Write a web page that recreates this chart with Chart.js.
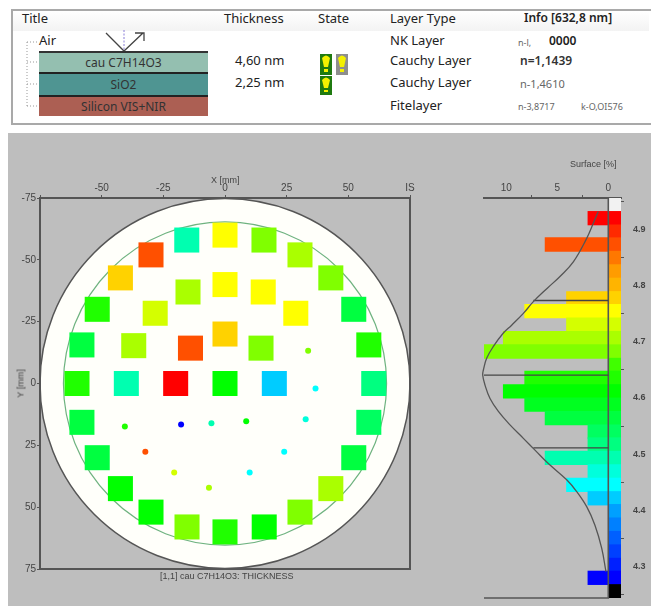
<!DOCTYPE html>
<html>
<head>
<meta charset="utf-8">
<script src="https://cdn.jsdelivr.net/npm/chart.js@4"></script>
<style>
  html, body { margin: 0; padding: 0; background: #fff; }
  body { position: relative; width: 651px; height: 606px; overflow: hidden; font-family: "Noto Sans", sans-serif; color: #222; }
  .abs { position: absolute; white-space: nowrap; line-height: 1; }
  #frame { position: absolute; left: 11px; top: 9px; width: 638px; height: 112px; border: 2px solid #a9a9a9; border-right: 0; }
  #headbar { position: absolute; left: 13px; top: 11px; width: 636px; height: 20px; background: linear-gradient(#fff, #f3f3f3); }
  #panel { position: absolute; left: 8px; top: 133px; width: 643px; height: 473px; background: #bebebe; }
  #waferBox { position: absolute; left: 0; top: 133px; width: 430px; height: 473px; filter: blur(0.4px); }
  #histBox { position: absolute; left: 430px; top: 133px; width: 221px; height: 473px; filter: blur(0.4px); }
  .lbl { font-family: "Liberation Sans", Arial, sans-serif; font-size: 9px; color: #444; }
  .layer { position: absolute; left: 39px; width: 169px; height: 21px; line-height: 21px; text-align: center; font-size: 12px; color: #333; box-sizing: border-box; }
</style>
</head>
<body>
<div id="frame"></div>
<div id="headbar"></div>

<div class="abs" style="left:22px;top:12px;font-size:13px">Title</div>
<div class="abs" style="left:224px;top:12px;font-size:13px">Thickness</div>
<div class="abs" style="left:318px;top:12px;font-size:13px">State</div>
<div class="abs" style="left:390px;top:12px;font-size:13px">Layer Type</div>
<div class="abs" style="left:524px;top:12px;font-size:12px;font-weight:600">Info [632,8 nm]</div>

<svg class="abs" style="left:0;top:0" width="651" height="125">
  <path d="M27 42V106M27 42H38M27 62H39M27 84H39M27 106H39" stroke="#999" stroke-dasharray="1 2" fill="none"/>
  <path d="M106 33L124 51L143 33M135 33H144V41" stroke="#444" stroke-width="1.3" fill="none"/>
  <path d="M124 30V51" stroke="#8a7fd8" stroke-dasharray="2 1.5" fill="none"/>
  <rect x="39" y="51" width="169" height="2" fill="#333"/>
  <rect x="39" y="53" width="169" height="19" fill="#94bfb0"/>
  <rect x="39" y="72" width="169" height="2" fill="#222"/>
  <rect x="39" y="74" width="169" height="21" fill="#4f9592"/>
  <rect x="39" y="95" width="169" height="2" fill="#222"/>
  <rect x="39" y="97" width="169" height="19" fill="#ac5f53"/>
  <rect x="320" y="54" width="12" height="21" fill="#1f7a10"/>
  <path d="M322 58Q326 53 330 58L328 67H324Z" fill="#f4f000"/><rect x="324" y="69" width="4" height="3" fill="#f4f000"/>
  <rect x="336" y="54" width="12" height="21" fill="#8e8e8e"/>
  <path d="M338 58Q342 53 346 58L344 67H340Z" fill="#f4f000"/><rect x="340" y="69" width="4" height="3" fill="#f4f000"/>
  <rect x="320" y="76" width="12" height="19" fill="#1f7a10"/>
  <path d="M322 80Q326 75 330 80L328 88H324Z" fill="#f4f000"/><rect x="324" y="90" width="4" height="2" fill="#f4f000"/>
</svg>

<div class="abs" style="left:39px;top:34px;font-size:13px">Air</div>
<div class="layer" style="top:52px">cau C7H14O3</div>
<div class="layer" style="top:74px">SiO2</div>
<div class="layer" style="top:96px">Silicon VIS+NIR</div>
<div class="abs" style="left:235px;top:54px;font-size:13px">4,60 nm</div>
<div class="abs" style="left:235px;top:76px;font-size:13px">2,25 nm</div>
<div class="abs" style="left:390px;top:34px;font-size:13px">NK Layer</div>
<div class="abs" style="left:390px;top:54px;font-size:13px">Cauchy Layer</div>
<div class="abs" style="left:390px;top:76px;font-size:13px">Cauchy Layer</div>
<div class="abs" style="left:390px;top:99px;font-size:13px">Fitelayer</div>
<div class="abs" style="left:518px;top:38px;font-size:9px;color:#666">n-l,</div>
<div class="abs" style="left:549px;top:35px;font-size:12px;font-weight:600">0000</div>
<div class="abs" style="left:520px;top:55px;font-size:12px;font-weight:600;color:#333">n=1,1439</div>
<div class="abs" style="left:520px;top:78px;font-size:11px;color:#666">n-1,4610</div>
<div class="abs" style="left:518px;top:102px;font-size:9px;color:#666">n-3,8717</div>
<div class="abs" style="left:581px;top:102px;font-size:9px;color:#666">k-O,OI576</div>

<div id="panel"></div>
<div id="waferBox"><canvas id="waferChart"></canvas></div>
<div id="histBox"><canvas id="histChart"></canvas></div>

<div class="abs lbl" style="left:211px;top:176px">X [mm]</div>
<div class="abs lbl" style="left:6px;top:379px;transform:rotate(-90deg);width:30px;text-align:center;font-weight:400">Y [mm]</div>
<div class="abs lbl" style="left:160px;top:572px">[1,1] cau C7H14O3: THICKNESS</div>
<div class="abs lbl" style="left:570px;top:160px">Surface [%]</div>

<script>
// wafer measurement sites, mm
const squareX = [-15.5, -30, -42.4, -51.8, -58, -60, -40, -20, 0, 20, 60.3, 0, 0, 0, -15, -28.3, -37, -14, 15.8, 30.4, 42.9, 52.2, 58.3, 15.5, 28.7, 14.6, -58, -51.8, -42.4, -30, -15.4, 0, 15.9, 30.4, 42.9, 52.2, 58.3];
const squareY = [-58, -52, -42.7, -30, -15.6, 0, 0, 0, 0, 0, 0, -60, -40, -20, -37, -28.4, -15.3, -14.3, -58, -52, -42.7, -30, -15.6, -37, -28.4, -14.3, 15.7, 30, 42.5, 52, 58, 60, 58, 52, 42.5, 30, 15.7];
const squareNm = [4.493, 4.874, 4.778, 4.636, 4.564, 4.636, 4.493, 4.921, 4.612, 4.421, 4.517, 4.755, 4.755, 4.778, 4.707, 4.731, 4.707, 4.874, 4.683, 4.707, 4.683, 4.564, 4.636, 4.755, 4.755, 4.683, 4.564, 4.564, 4.612, 4.612, 4.683, 4.636, 4.612, 4.683, 4.707, 4.564, 4.540];
const dotX = [33.7, 36.7, -40.6, -17.8, -5.5, 8.6, 32.7, -32.3, 24, -20.6, 10, -6.5];
const dotY = [-13.2, 2, 17.4, 16.6, 16.1, 15.3, 14.5, 27.6, 27.6, 36, 36, 42.1];
const dotNm = [4.683, 4.445, 4.636, 4.279, 4.493, 4.612, 4.469, 4.874, 4.445, 4.731, 4.445, 4.707];

const waferTicks = [-75, -50, -25, 0, 25, 50, 75];
const waferRadius = 75;
const ringRadius = 65.5;

// histogram: bands run from the top of the colour bar down
const binCenters = [4.945, 4.921, 4.897, 4.874, 4.850, 4.826, 4.802, 4.778, 4.755, 4.731, 4.707, 4.683, 4.659, 4.636, 4.612, 4.588, 4.564, 4.540, 4.517, 4.493, 4.469, 4.445, 4.421, 4.398, 4.374, 4.350, 4.326, 4.302, 4.279, 4.255];
const surfacePct = [0, 2, 0, 6.2, 0, 0, 0, 4.1, 8.2, 4.1, 10.3, 12.3, 0, 8.2, 10.3, 8.2, 6.2, 2, 2, 6.2, 2, 4.1, 2, 0, 0, 0, 0, 0, 2, 0];
const bandColors = ['#f2f2f2', '#ff0000', '#ff2a00', '#ff5000', '#ff7800', '#ff9c00', '#ffb400', '#ffd200', '#ffff00', '#d4ff00', '#aaff00', '#80ff00', '#40ff00', '#20ff00', '#00ff00', '#00ff20', '#00ff40', '#00ff60', '#00ff80', '#00ffb0', '#00ffdc', '#00ffff', '#00ccff', '#00a0ff', '#0080ff', '#0060ff', '#0040ff', '#0020ff', '#0000ff', '#000000'];
const surfaceTicks = [0, 5, 10];
const valueTicks = [4.3, 4.4, 4.5, 4.6, 4.7, 4.8, 4.9];

// fitted curve
const curvePct = [0.98, 1.47, 2.12, 3.43, 4.74, 5.98, 7.35, 8.33, 9.48, 10.29, 11.27, 11.93, 12.25, 12.32, 12.09, 11.6, 10.78, 9.64, 8.33, 7.19, 5.88, 4.08, 3.1, 2.12, 1.31, 0.65, 0.23];
const curveVal = [4.933, 4.912, 4.885, 4.843, 4.817, 4.796, 4.772, 4.751, 4.730, 4.716, 4.692, 4.671, 4.650, 4.641, 4.623, 4.599, 4.576, 4.552, 4.528, 4.507, 4.483, 4.454, 4.433, 4.406, 4.373, 4.332, 4.290];
const markerVal = [4.774, 4.641, 4.511];
const markerPct = [7.35, 12.3, 7.35];

const valMin = 4.243, valMax = 4.957;
const pctMin = -1.245, pctMax = 12.19;

const axisColor = '#555';
const tickFont = { family: '"Liberation Sans", Arial, sans-serif', size: 10 };

function colorFor(nm) {
  let best = 0;
  binCenters.forEach((c, i) => {
    if (Math.abs(c - nm) < Math.abs(binCenters[best] - nm)) best = i;
  });
  return bandColors[best];
}

const waferPlugin = {
  id: 'wafer',
  beforeDatasetsDraw(chart) {
    const { ctx, scales: { x, y } } = chart;
    const cx = x.getPixelForValue(0), cy = y.getPixelForValue(0);
    const pxPerMm = (x.getPixelForValue(75) - cx) / 75;
    ctx.save();
    ctx.beginPath();
    ctx.arc(cx, cy, waferRadius * pxPerMm, 0, Math.PI * 2);
    ctx.fillStyle = '#fffffa';
    ctx.fill();
    ctx.strokeStyle = '#555';
    ctx.lineWidth = 1.5;
    ctx.stroke();
    ctx.beginPath();
    ctx.arc(cx, cy, ringRadius * pxPerMm, 0, Math.PI * 2);
    ctx.strokeStyle = '#6fb380';
    ctx.lineWidth = 1.2;
    ctx.stroke();
    ctx.restore();
  },
  afterDraw(chart) {
    const { ctx, chartArea: a } = chart;
    ctx.save();
    ctx.strokeStyle = axisColor;
    ctx.lineWidth = 2;
    ctx.strokeRect(a.left, a.top, a.right - a.left, a.bottom - a.top);
    ctx.restore();
  }
};

function fixTicks(values) {
  return (scale) => { scale.ticks = values.map((v) => ({ value: v })); };
}

new Chart(document.getElementById('waferChart'), {
  type: 'scatter',
  data: {
    datasets: [{
      data: squareX.map((x, i) => ({ x, y: squareY[i] })),
      pointStyle: 'rect',
      pointRadius: 17.7,
      pointBorderWidth: 0,
      pointBackgroundColor: squareNm.map(colorFor)
    }, {
      data: dotX.map((x, i) => ({ x, y: dotY[i] })),
      pointStyle: 'circle',
      pointRadius: 3,
      pointBorderWidth: 0,
      pointBackgroundColor: dotNm.map(colorFor)
    }]
  },
  options: {
    responsive: true,
    maintainAspectRatio: false,
    animation: false,
    layout: { padding: { left: 20, top: 45, right: 20, bottom: 37 } },
    plugins: { legend: { display: false }, tooltip: { enabled: false } },
    scales: {
      x: {
        type: 'linear',
        position: 'top',
        min: -75,
        max: 75,
        afterFit: (s) => { s.height = 20; },
        afterBuildTicks: fixTicks(waferTicks),
        grid: { drawOnChartArea: false, tickLength: 3, color: axisColor },
        border: { display: false },
        ticks: {
          font: tickFont,
          color: '#444',
          padding: 1,
          maxRotation: 0,
          callback: (v) => (v === -75 ? '' : v === 75 ? 'IS' : v)
        }
      },
      y: {
        type: 'linear',
        reverse: true,
        min: -75,
        max: 75,
        afterFit: (s) => { s.width = 20; },
        afterBuildTicks: fixTicks(waferTicks),
        grid: { drawOnChartArea: false, tickLength: 3, color: axisColor },
        border: { display: false },
        ticks: { font: tickFont, color: '#444', padding: 1 }
      }
    }
  },
  plugins: [waferPlugin]
});

new Chart(document.getElementById('histChart'), {
  type: 'bar',
  data: {
    datasets: [{
      // colour bar
      indexAxis: 'y',
      grouped: false,
      order: 2,
      barThickness: 13.6,
      data: binCenters.map((y) => ({ x: [pctMin, 0], y })),
      backgroundColor: bandColors
    }, {
      indexAxis: 'y',
      grouped: false,
      order: 1,
      barThickness: 13.6,
      data: binCenters.map((y, i) => ({ x: surfacePct[i], y })),
      backgroundColor: bandColors
    }, {
      type: 'scatter',
      showLine: true,
      order: 0,
      clip: false,
      pointRadius: 0,
      borderColor: '#555',
      borderWidth: 1.3,
      tension: 0.4,
      data: curvePct.map((x, i) => ({ x, y: curveVal[i] }))
    }, ...markerVal.map((v, i) => ({
      type: 'scatter',
      showLine: true,
      order: 0,
      pointRadius: 0,
      borderColor: '#444',
      borderWidth: 1.3,
      data: [{ x: markerPct[i], y: v }, { x: 0, y: v }]
    })), {
      // zero line and bottom rule of the histogram
      type: 'scatter',
      showLine: true,
      order: 0,
      clip: false,
      pointRadius: 0,
      borderColor: '#555',
      borderWidth: 1.6,
      data: [{ x: 0, y: valMax }, { x: 0, y: valMin }, { x: pctMax, y: valMin }]
    }]
  },
  options: {
    responsive: true,
    maintainAspectRatio: false,
    animation: false,
    layout: { padding: { left: 54, top: 45, right: 0, bottom: 8 } },
    plugins: { legend: { display: false }, tooltip: { enabled: false } },
    scales: {
      x: {
        type: 'linear',
        position: 'top',
        reverse: true,
        min: pctMin,
        max: pctMax,
        offset: false,
        afterFit: (s) => { s.height = 20; },
        afterBuildTicks: fixTicks(surfaceTicks),
        grid: { drawOnChartArea: false, tickLength: 3, color: axisColor },
        border: { display: true, color: axisColor, width: 2 },
        ticks: { font: tickFont, color: '#444', padding: 1, maxRotation: 0 }
      },
      y: {
        type: 'linear',
        position: 'right',
        min: valMin,
        max: valMax,
        offset: false,
        afterFit: (s) => { s.width = 30; s.paddingBottom = 0; s.paddingTop = 0; },
        afterBuildTicks: fixTicks(valueTicks),
        grid: { drawOnChartArea: false, tickLength: 3, color: axisColor },
        border: { display: false },
        ticks: {
          font: { ...tickFont, weight: 'bold', size: 9 },
          color: '#444',
          padding: 9,
          callback: (v) => v.toFixed(1)
        }
      }
    }
  }
});
</script>
</body>
</html>
